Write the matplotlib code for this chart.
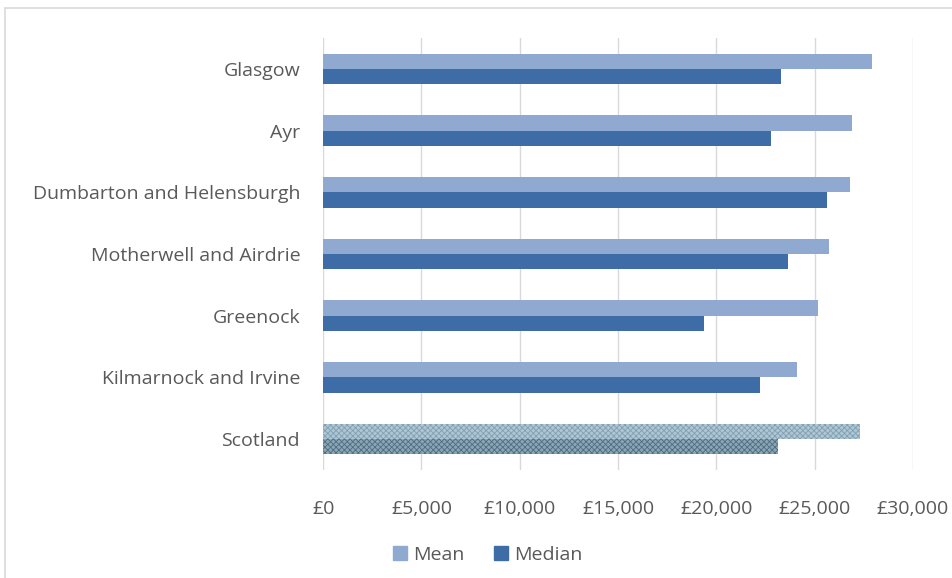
import matplotlib
matplotlib.use("Agg")
import matplotlib.pyplot as plt
from matplotlib.patches import Rectangle, Patch

categories = ["Glasgow", "Ayr", "Dumbarton and Helensburgh", "Motherwell and Airdrie",
              "Greenock", "Kilmarnock and Irvine", "Scotland"]
mean_vals = [27900, 26900, 26800, 25750, 25150, 24100, 27300]
median_vals = [23300, 22800, 25650, 23650, 19350, 22200, 23150]
xticks = [0, 5000, 10000, 15000, 20000, 25000, 30000]
xtick_labels = ["£0", "£5,000", "£10,000", "£15,000", "£20,000", "£25,000", "£30,000"]

plt.rcParams['font.family'] = ['Open Sans', 'DejaVu Sans']
plt.rcParams['hatch.linewidth'] = 0.6

MEAN_C = "#8fa9d0"
MED_C = "#3e6ca7"
TXT = "#595959"
FS = 14

fig = plt.figure(figsize=(9.53, 5.78), dpi=100)
ax = fig.add_axes([0.339, 0.187, 0.958 - 0.339, 0.934 - 0.187])

h = 0.25
ys = list(range(len(categories)))
for i, (m, md) in enumerate(zip(mean_vals, median_vals)):
    if categories[i] == "Scotland":
        ax.barh(i - h / 2, m, height=h, color="#b0c6d3", edgecolor="#7f9fb3",
                hatch="xxxxxx", linewidth=0, zorder=3)
        ax.barh(i + h / 2, md, height=h, color="#8ba5b4", edgecolor="#4d6d81",
                hatch="xxxxxx", linewidth=0, zorder=3)
    else:
        ax.barh(i - h / 2, m, height=h, color=MEAN_C, linewidth=0, zorder=3)
        ax.barh(i + h / 2, md, height=h, color=MED_C, linewidth=0, zorder=3)

ax.set_ylim(6.5, -0.5)
ax.set_xlim(0, 30000)
ax.set_yticks(ys)
ax.set_yticklabels(categories)
ax.set_xticks(xticks)
ax.set_xticklabels(xtick_labels)
ax.tick_params(axis='both', length=0, colors=TXT, labelsize=FS)
ax.tick_params(axis='y', pad=16.5)
ax.tick_params(axis='x', pad=22)
ax.grid(axis='x', color="#d9d9d9", linewidth=1, zorder=0)
for s in ax.spines.values():
    s.set_visible(False)

handles = [Patch(color=MEAN_C, label="Mean"), Patch(color=MED_C, label="Median")]
fig.legend(handles=handles, loc="center", bbox_to_anchor=(0.512, 0.04), ncol=2,
           frameon=False, fontsize=FS, labelcolor=TXT, handlelength=0.7,
           handleheight=0.7, handletextpad=0.35, columnspacing=1.5)

# outer chart border (only top and left visible in the crop)
fig.add_artist(Rectangle((5 / 953, -0.05), 1.2, 1 - 8 / 578 + 0.05,
                         transform=fig.transFigure, fill=False,
                         edgecolor="#d9d9d9", linewidth=1.2))

fig.savefig("out.png", dpi=100)
